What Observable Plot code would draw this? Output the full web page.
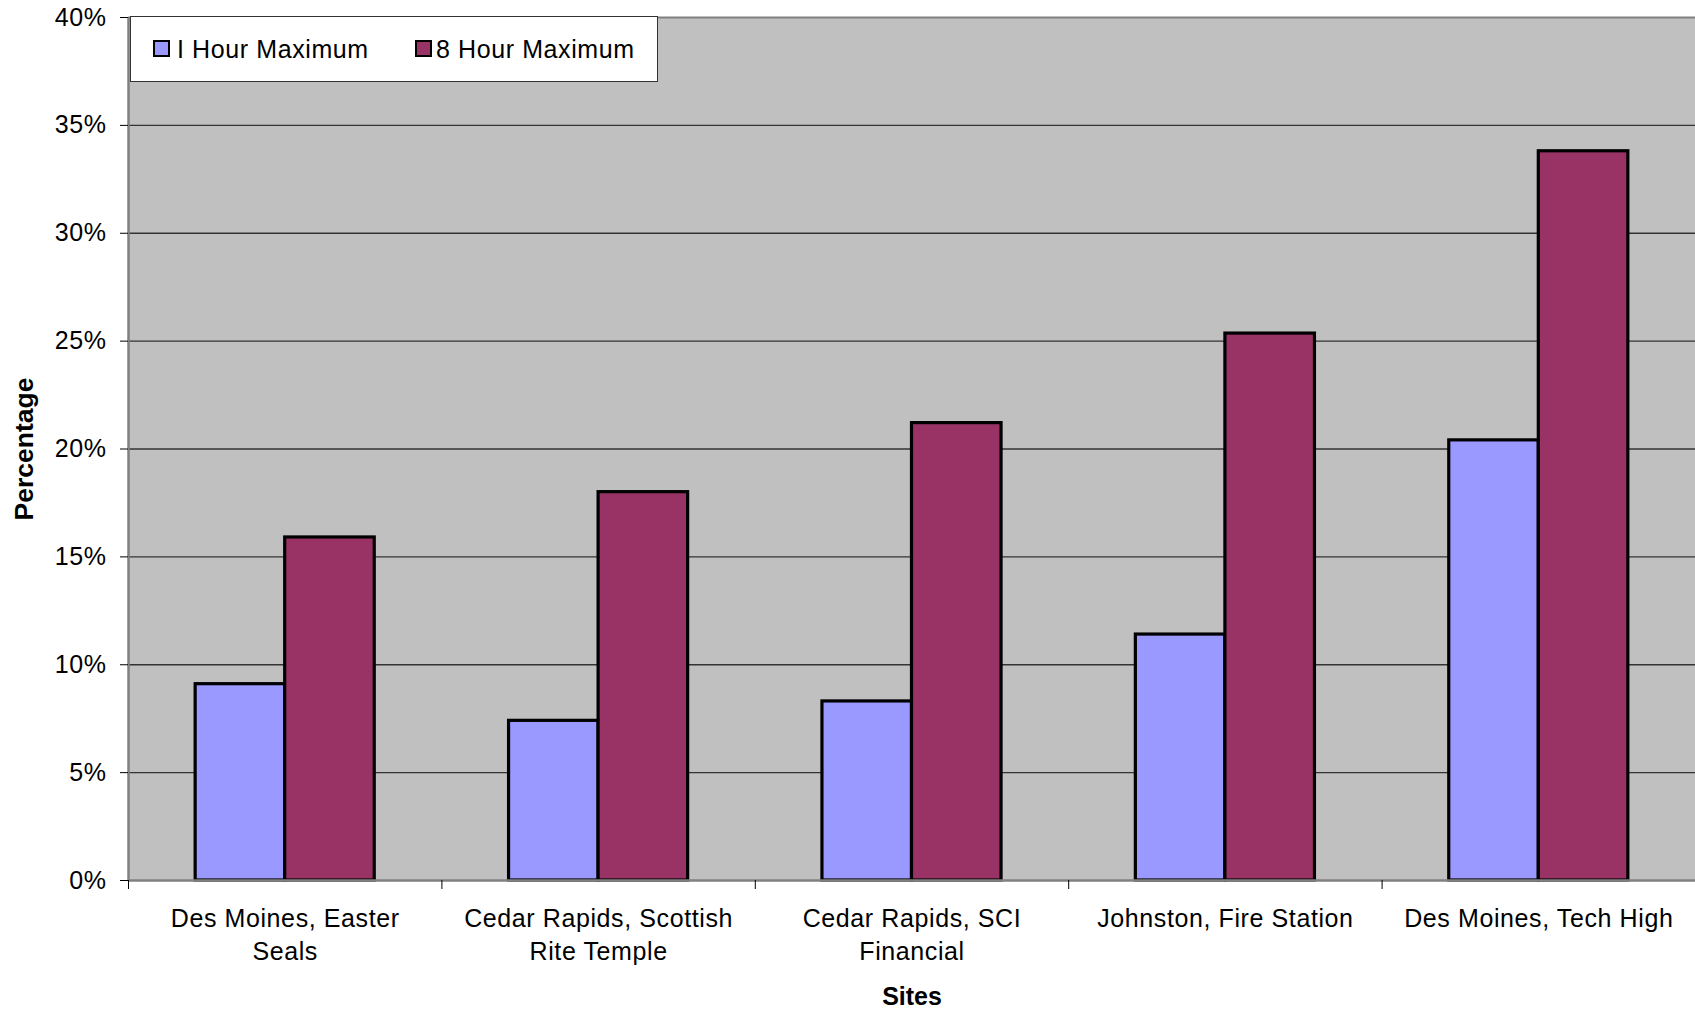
<!DOCTYPE html>
<html>
<head>
<meta charset="utf-8">
<script src="https://cdn.jsdelivr.net/npm/d3@7"></script>
<script src="https://cdn.jsdelivr.net/npm/@observablehq/plot@0.6"></script>
<style>
  html, body { margin: 0; padding: 0; background: #fff; overflow: hidden; }
  #wrap { position: relative; width: 1695px; height: 1011px; }
  #wrap svg { display: block; }
  g[aria-label="x-axis tick label"] text, g[aria-label="y-axis tick label"] text { letter-spacing: 0.6px; }
  g[aria-label="x-axis label"] text { font-weight: bold; font-size: 25px; }
  g[aria-label="y-axis label"] text { font-weight: bold; font-size: 26.5px; }
  #legend { position: absolute; left: 130px; top: 16px; width: 528px; height: 66px; background: #fff;
            border: 1px solid #333; box-sizing: border-box; font: 25px "Liberation Sans", Arial, sans-serif;
            letter-spacing: 0.6px; color: #000; }
  #legend .sw { position: absolute; top: 23px; width: 13px; height: 13px; border: 2px solid #000; }
  #legend .lb { position: absolute; top: 20px; line-height: 25px; white-space: nowrap; }
</style>
</head>
<body>
<div id="wrap"></div>
<script>
// ---- data ----
const sites = [
  "Des Moines, Easter Seals",
  "Cedar Rapids, Scottish Rite Temple",
  "Cedar Rapids, SCI Financial",
  "Johnston, Fire Station",
  "Des Moines, Tech High"
];
const siteLabels = [
  "Des Moines, Easter\nSeals",
  "Cedar Rapids, Scottish\nRite Temple",
  "Cedar Rapids, SCI\nFinancial",
  "Johnston, Fire Station",
  "Des Moines, Tech High"
];
const seriesNames = ["I Hour Maximum", "8 Hour Maximum"];
const oneHourMax = [9.1, 7.4, 8.3, 11.4, 20.4];
const eightHourMax = [15.9, 18.0, 21.2, 25.35, 33.8];
const yTicks = [0, 5, 10, 15, 20, 25, 30, 35, 40];
const yTickLabels = ["0%", "5%", "10%", "15%", "20%", "25%", "30%", "35%", "40%"];
const xTitle = "Sites";
const yTitle = "Percentage";

// ---- build table ----
const seriesValues = [oneHourMax, eightHourMax];
const rows = sites.flatMap((site, i) =>
  seriesNames.map((s, k) => ({site, idx: i, slot: k, series: s, value: seriesValues[k][i]}))
);

// Excel gap width 150%: each bar is 1/3.5 of a category band
const barFrac = 1 / 3.5;
const colors = ["#9999ff", "#993366"];
const bandCenters = sites.map((_, i) => i + 0.5);
const bandEdges = d3.range(sites.length + 1);

const chart = Plot.plot({
  width: 1695,
  height: 1011,
  marginLeft: 128,
  marginRight: 0,
  marginTop: 17,
  marginBottom: 131,
  style: {fontFamily: '"Liberation Sans", Arial, sans-serif', fontSize: "25px", color: "#000", background: "transparent"},
  x: {domain: [0, sites.length]},
  y: {domain: [0, 40]},
  color: {domain: seriesNames, range: colors},
  marks: [
    Plot.frame({fill: "#c0c0c0", stroke: "none"}),
    Plot.ruleY(yTicks.filter(t => t > 0 && t < 40), {stroke: "#333", strokeWidth: 1.4}),
    Plot.rectY(rows, {
      x1: d => d.idx + 0.5 - (1 - d.slot) * barFrac,
      x2: d => d.idx + 0.5 + d.slot * barFrac,
      y1: 0,
      y2: "value",
      fill: "series",
      stroke: "#000",
      strokeWidth: 3.2
    }),
    Plot.ruleY([40], {stroke: "#808080", strokeWidth: 2}),
    Plot.ruleY([0], {stroke: "#808080", strokeWidth: 2.5}),
    Plot.ruleX([0], {stroke: "#808080", strokeWidth: 2.5}),
    Plot.axisY({
      ticks: yTicks,
      tickFormat: d => yTickLabels[yTicks.indexOf(d)],
      tickSize: 8,
      tickPadding: 14,
      stroke: "#000",
      label: yTitle,
      labelArrow: "none",
      labelAnchor: "center",
      labelOffset: 114
    }),
    Plot.axisX({
      ticks: bandEdges,
      tickFormat: () => "",
      tickSize: 9,
      stroke: "#000",
      label: null
    }),
    Plot.axisX({
      ticks: bandCenters,
      tickFormat: d => siteLabels[Math.round(d - 0.5)],
      tickSize: 0,
      tickPadding: 23,
      lineHeight: 1.32,
      label: xTitle,
      labelArrow: "none",
      labelAnchor: "center",
      labelOffset: 124
    })
  ]
});

const wrap = document.getElementById("wrap");
wrap.appendChild(chart);

// legend (overlaid inside plot area, as in the original)
const legend = document.createElement("div");
legend.id = "legend";
const legendPos = [{sw: 22, lb: 46}, {sw: 284, lb: 305}];
seriesNames.forEach((name, k) => {
  const sw = document.createElement("div");
  sw.className = "sw";
  sw.style.left = legendPos[k].sw + "px";
  sw.style.background = colors[k];
  const lb = document.createElement("div");
  lb.className = "lb";
  lb.style.left = legendPos[k].lb + "px";
  lb.textContent = name;
  legend.appendChild(sw);
  legend.appendChild(lb);
});
wrap.appendChild(legend);
</script>
</body>
</html>
